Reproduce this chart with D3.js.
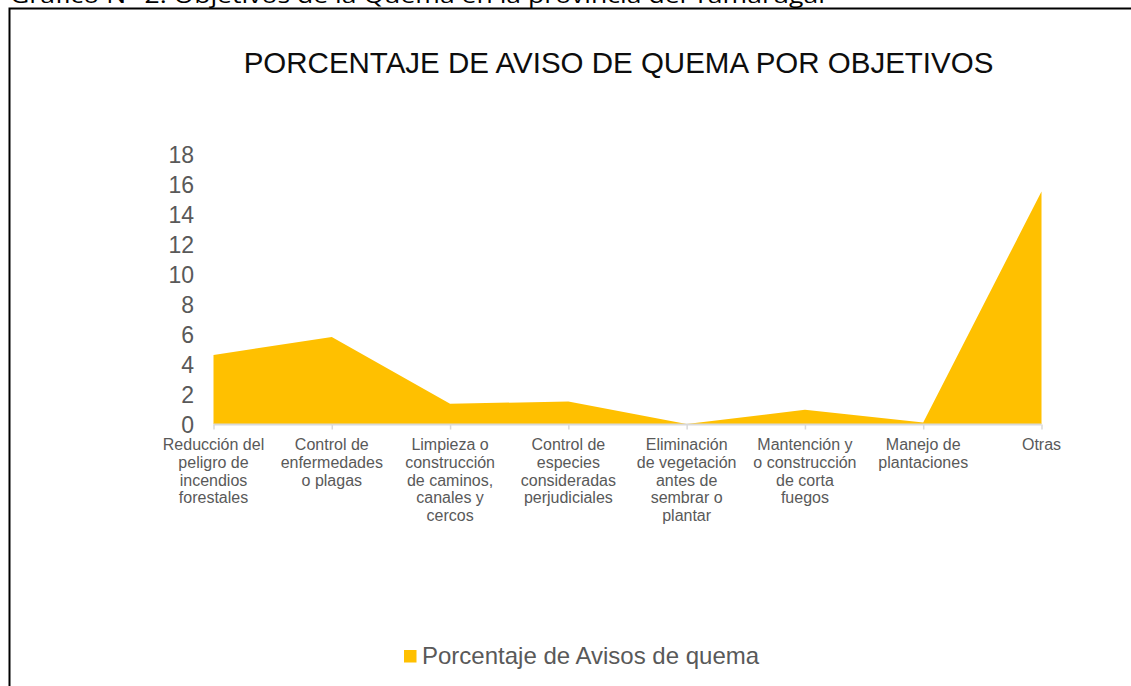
<!DOCTYPE html>
<html>
<head>
<meta charset="utf-8">
<script src="https://cdn.jsdelivr.net/npm/d3@7/dist/d3.min.js"></script>
<style>
  html, body { margin: 0; padding: 0; background: #fff; }
  svg { display: block; font-family: "Liberation Sans", Arial, sans-serif; }
</style>
</head>
<body>
<svg id="chart" width="1131" height="686"></svg>
<script>
const categories = [
  "Reducción del\npeligro de\nincendios\nforestales",
  "Control de\nenfermedades\no plagas",
  "Limpieza o\nconstrucción\nde caminos,\ncanales y\ncercos",
  "Control de\nespecies\nconsideradas\nperjudiciales",
  "Eliminación\nde vegetación\nantes de\nsembrar o\nplantar",
  "Mantención y\no construcción\nde corta\nfuegos",
  "Manejo de\nplantaciones",
  "Otras"
];
const values = [4.6, 5.8, 1.35, 1.5, 0, 0.95, 0.1, 15.5];
const yTicks = [0, 2, 4, 6, 8, 10, 12, 14, 16, 18];
const seriesName = "Porcentaje de Avisos de quema";
const chartTitle = "PORCENTAJE DE AVISO DE QUEMA POR OBJETIVOS";
const caption = "Gráfico N° 2: Objetivos de la Quema en la provincia del Tamarugal";

const svg = d3.select("#chart");

// caption (cut at top, as in the source page)
svg.append("text")
  .attr("x", 10).attr("y", 3)
  .attr("font-family", "'Open Sans', 'Liberation Sans', sans-serif")
  .attr("font-size", 21)
  .attr("fill", "#000")
  .attr("textLength", 815)
  .attr("lengthAdjust", "spacingAndGlyphs")
  .text(caption);

// frame
svg.append("path")
  .attr("d", "M9.5,686 V8.5 H1131")
  .attr("fill", "none")
  .attr("stroke", "#000")
  .attr("stroke-width", 2);

// title
svg.append("text")
  .attr("x", 618.5).attr("y", 73)
  .attr("text-anchor", "middle")
  .attr("font-size", 29.5)
  .attr("fill", "#0d0d0d")
  .text(chartTitle);

const x = d3.scalePoint().domain(d3.range(categories.length)).range([213.5, 1041.5]).padding(0);
const y = d3.scaleLinear().domain([0, 18]).range([424, 154]);

// area
const area = d3.area()
  .x((d, i) => x(i))
  .y0(y(0))
  .y1(d => y(d));
svg.append("path")
  .datum(values)
  .attr("d", area)
  .attr("fill", "#FFC000");

// y tick labels
const yAxis = d3.axisLeft(y).tickValues(yTicks).tickSize(0).tickPadding(0).tickFormat(d3.format("d"));
const gy = svg.append("g").attr("transform", "translate(194,0)").call(yAxis);
gy.select(".domain").remove();
gy.selectAll("text")
  .attr("font-size", 23)
  .attr("fill", "#595959")
  .attr("font-family", "'Liberation Sans', Arial, sans-serif")
  .attr("dy", "0.36em");

// x axis
const xAxis = d3.axisBottom(x).tickSize(5).tickFormat("");
const gx = svg.append("g").attr("transform", `translate(0,${y(0) + 0.5})`).call(xAxis);
gx.select(".domain").attr("stroke", "#d9d9d9").attr("stroke-width", 2).attr("d", `M${x(0)},0H${x(categories.length - 1)}`);
gx.selectAll(".tick line").attr("stroke", "#d9d9d9").attr("stroke-width", 1.5);

// category labels
categories.forEach((c, i) => {
  const t = svg.append("text")
    .attr("x", x(i)).attr("y", 450)
    .attr("text-anchor", "middle")
    .attr("font-size", 16)
    .attr("fill", "#595959");
  c.split("\n").forEach((line, k) => {
    t.append("tspan").attr("x", x(i)).attr("dy", k === 0 ? 0 : 17.8).text(line);
  });
});

// legend
svg.append("rect")
  .attr("x", 404).attr("y", 650).attr("width", 12.5).attr("height", 12.5)
  .attr("fill", "#FFC000");
svg.append("text")
  .attr("x", 422).attr("y", 664)
  .attr("font-size", 24)
  .attr("fill", "#595959")
  .text(seriesName);
</script>
</body>
</html>
